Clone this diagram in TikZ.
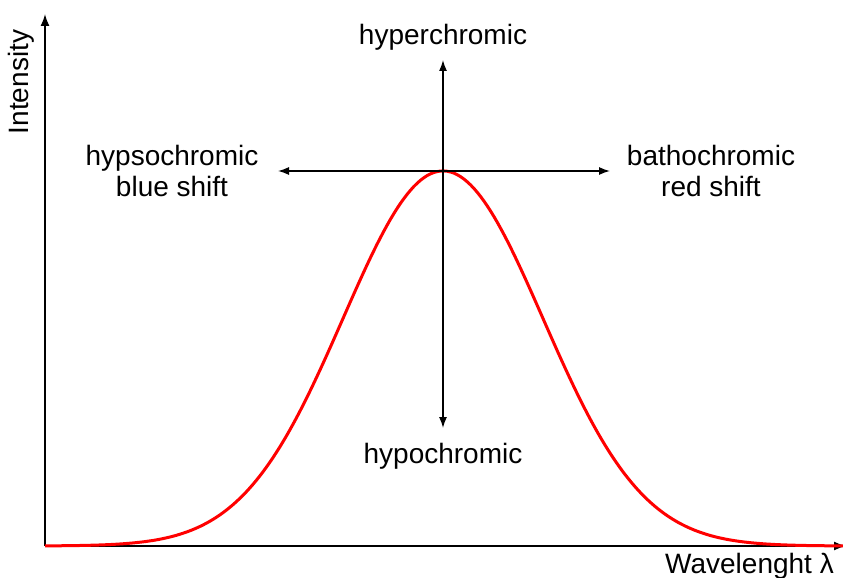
\documentclass[tikz,border=0pt]{standalone}
\usepackage{fontspec}
\setmainfont{Liberation Sans}
\usetikzlibrary{arrows.meta,positioning}
\definecolor{curvered}{HTML}{FF0000}
\tikzset{
  axis/.style={line width=1.6pt,-{Latex[length=12pt,width=9pt]}},
  shiftarrow/.style={line width=1.4pt,-{Latex[length=11pt,width=8pt]}},
  lbl/.style={font=\fontsize{28}{31}\selectfont,align=center,inner sep=0pt},
}
\begin{document}
\begin{tikzpicture}[x=1pt,y=-1pt]
\useasboundingbox (0,0) rectangle (843,578);
% axes
\coordinate (origin) at (45,546);
\coordinate (ytop) at (45,14);
\coordinate (xend) at (846,546);
\draw[axis] (origin) -- (ytop);
\draw[axis] (origin) -- (xend);
\node[lbl,rotate=90] (ylab) at (21,82) {Intensity};
\node[lbl,anchor=east] (xlab) at (834,566) {Wavelenght λ};
% absorption band
\draw[curvered,line width=3pt] plot[domain=45:846,samples=240]
  (\x,{546-375*exp(-((\x-443)/100)^2/2)});
% shift directions
\coordinate (peak) at (443,171);
\coordinate (up) at (443,60);
\coordinate (down) at (443,428);
\coordinate (left) at (278,171);
\coordinate (right) at (610,171);
\draw[shiftarrow] (peak) -- (up);
\draw[shiftarrow] (peak) -- (down);
\draw[shiftarrow] (peak) -- (left);
\draw[shiftarrow] (peak) -- (right);
\node[lbl] (hyper) at (443,37) {hyperchromic};
\node[lbl] (hypo) at (443,456) {hypochromic};
\node[lbl] (hypso) at (172,171) {hypsochromic\\blue shift};
\node[lbl] (batho) at (711,171) {bathochromic\\red shift};
\end{tikzpicture}
\end{document}
